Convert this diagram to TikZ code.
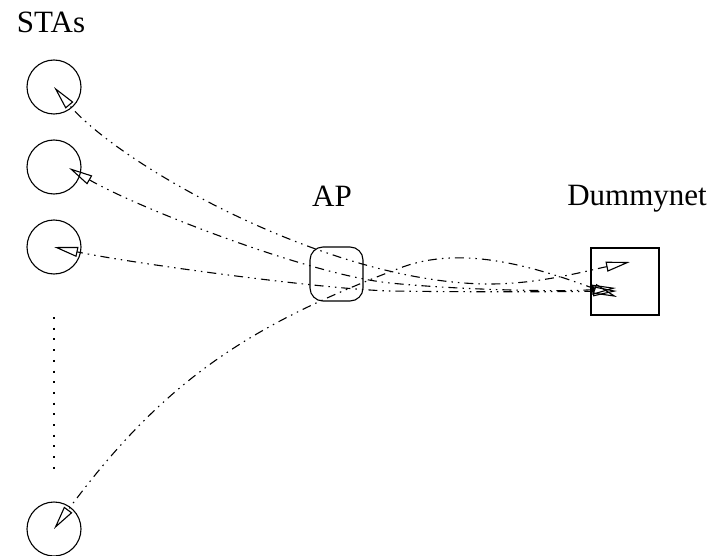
\documentclass[tikz,border=0pt]{standalone}
\usepackage{fontspec}
\setmainfont{Liberation Serif}
\usetikzlibrary{arrows.meta}
\tikzset{
  >={Triangle[open,length=24pt,width=10pt]},
  flow/.style={<->, line width=1.1pt, dash pattern=on 9pt off 5pt on 1.5pt off 5pt on 1.5pt off 5pt},
  stanode/.style={circle, draw, line width=1.1pt, minimum size=54pt, inner sep=0pt},
  boxnode/.style={draw, line width=1.1pt, inner sep=0pt},
  lbl/.style={font=\fontsize{31}{37}\selectfont, inner sep=0pt, anchor=base},
}
\begin{document}
\begin{tikzpicture}[x=1pt, y=-1pt]
  \useasboundingbox (0,0) rectangle (714,556);
  % Stations
  \foreach \n/\y in {1/87, 2/167, 3/247, 4/529} {
    \node[stanode] (sta\n) at (54,\y) {};
  }
  \coordinate (gapTop) at (54,317);
  \coordinate (gapBot) at (54,470);
  \draw[line width=1.2pt, dash pattern=on 2pt off 8.7pt] (gapTop) -- (gapBot);
  % AP and Dummynet
  \node[boxnode, rounded corners=13pt, minimum width=53pt, minimum height=54pt] (ap) at (336.5,274) {};
  \node[boxnode, minimum width=68pt, minimum height=67pt] (dummy) at (625,281.5) {};
  % Labels
  \node[lbl] (staslbl) at (51,33) {STAs};
  \node[lbl] (aplbl) at (332,206) {AP};
  \node[lbl] (dummylbl) at (637,205) {Dummynet};
  % Ends inside the Dummynet box
  \coordinate (dn1) at (630,262);
  \coordinate (dn2) at (616,288);
  \coordinate (dn3) at (617,291);
  \coordinate (dn4) at (617,297);
  \coordinate (tip2) at (69,168);
  % Flows
  \draw[flow] (dn1) .. controls (590,270) and (540,284) .. (490,284)
                    .. controls (330,284) and (120,165) .. (sta1.center);
  \draw[flow] (dn2) .. controls (560,292) and (460,290) .. (390,283)
                    .. controls (310,275) and (138,208) .. (tip2);
  \draw[flow] (dn3) .. controls (540,292) and (460,292) .. (390,291)
                    .. controls (320,289) and (130,263) .. (sta3.center);
  \draw[flow] (dn4) .. controls (530,265) and (460,245) .. (400,268)
                    .. controls (250,325) and (164,380) .. (sta4.center);
\end{tikzpicture}
\end{document}
